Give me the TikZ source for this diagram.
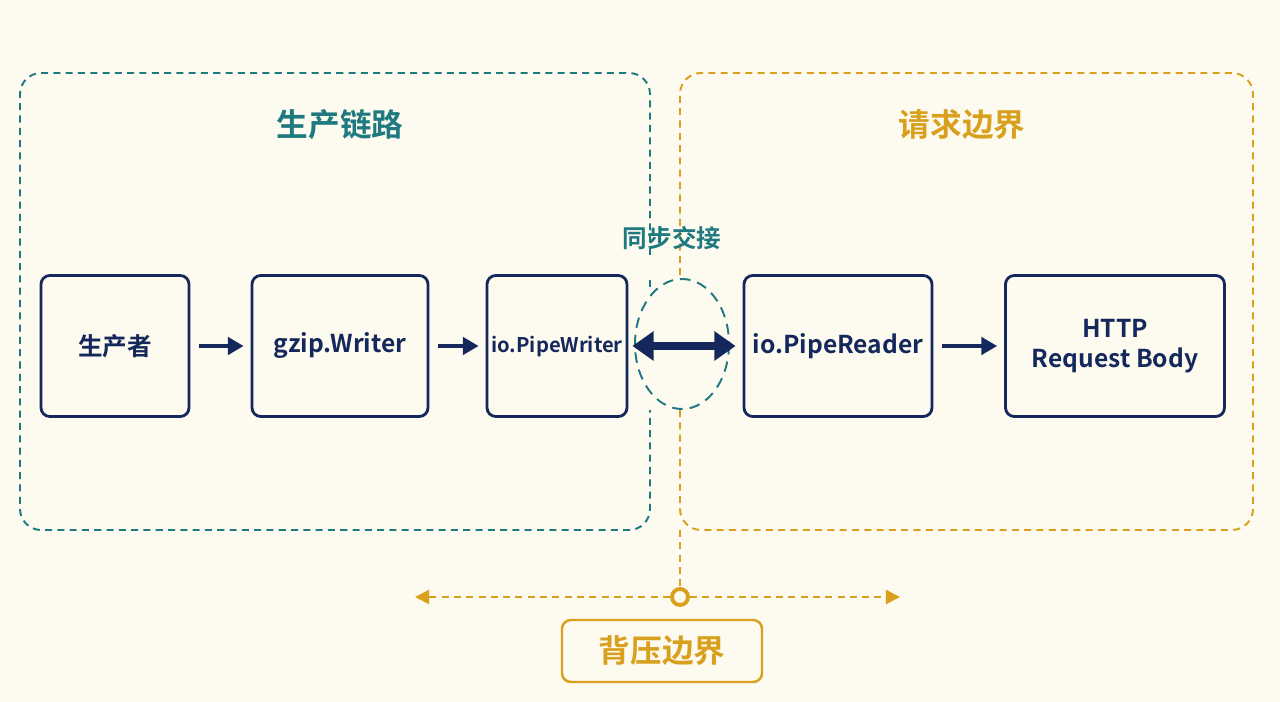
\documentclass[tikz,border=0pt]{standalone}
\usepackage{fontspec}
\setmainfont{Noto Sans CJK SC}[BoldFont={Noto Sans CJK SC Bold}]
\usetikzlibrary{arrows.meta}
\definecolor{bg}{HTML}{FDFAF0}
\definecolor{teal}{HTML}{1E7A80}
\definecolor{gold}{HTML}{D9A01E}
\definecolor{navy}{HTML}{15285C}
\begin{document}
\begin{tikzpicture}[x=0.02cm,y=-0.02cm,
  box/.style={draw=navy,line width=1.6pt,rounded corners=5pt,fill=bg,minimum height=141*0.02cm,font=\bfseries\fontsize{14}{17}\selectfont,text=navy,align=center,inner sep=0pt},
  arr/.style={draw=navy,line width=1.8pt,shorten <=5pt,shorten >=4pt,-{Triangle[length=9pt,width=10pt]}},
  dsh/.style={dash pattern=on 4pt off 3pt,line width=1.1pt}]
\fill[bg] (0,0) rectangle (1280,702);
\useasboundingbox (0,0) rectangle (1280,702);
% regions
\draw[dsh,teal,rounded corners=12pt] (650,255) -- (650,73) -- (20,73) -- (20,530) -- (650,530) -- (650,410);
\draw[dsh,teal] (650,280) -- (650,290);
\draw[dsh,gold,rounded corners=12pt] (680,410) -- (680,530) -- (1253,530) -- (1253,73) -- (680,73) -- (680,280);
\draw[dsh,gold] (680,530) -- (680,588);
\node[font=\bfseries\fontsize{18}{22}\selectfont,text=teal] (t1) at (340,125) {生产链路};
\node[font=\bfseries\fontsize{18}{22}\selectfont,text=gold] (t2) at (962,125) {请求边界};
\node[font=\bfseries\fontsize{14}{17}\selectfont,text=teal] (t3) at (672,238) {同步交接};
% boxes
\node[box,minimum width=148*0.02cm] (p) at (115,346) {生产者};
\node[box,minimum width=176*0.02cm] (g) at (340,346) {gzip.Writer};
\node[box,minimum width=140*0.02cm,font=\bfseries\fontsize{11.5}{14}\selectfont] (w) at (557,346) {io.PipeWriter};
\node[box,minimum width=188*0.02cm] (r) at (838,346) {io.PipeReader};
\node[box,minimum width=219*0.02cm] (h) at (1115,346) {HTTP\\Request Body};
\draw[arr] (p) -- (g);
\draw[arr] (g) -- (w);
\draw[arr] (r) -- (h);
\draw[teal,dash pattern=on 6pt off 4pt,line width=1.1pt] (682,344) ellipse [x radius=47,y radius=65];
\draw[navy,line width=4pt,{Triangle[length=12pt,width=16pt]}-{Triangle[length=12pt,width=16pt]}] (w.east) ++(4,0) -- ([xshift=-4]r.west);
% backpressure
\coordinate (L) at (415,597);
\coordinate (R) at (900,597);
\node[circle,draw=gold,line width=2.2pt,fill=bg,minimum size=16*0.02cm,inner sep=0pt] (c) at (680,597) {};
\draw[dsh,gold,-{Triangle[length=8pt,width=8pt]}] (c) -- (R);
\draw[dsh,gold,-{Triangle[length=8pt,width=8pt]}] (c) -- (L);
\node[draw=gold,line width=1.4pt,rounded corners=5pt,fill=bg,minimum width=200*0.02cm,minimum height=62*0.02cm,font=\bfseries\fontsize{18}{22}\selectfont,text=gold] (b) at (662,651) {背压边界};
\end{tikzpicture}
\end{document}
